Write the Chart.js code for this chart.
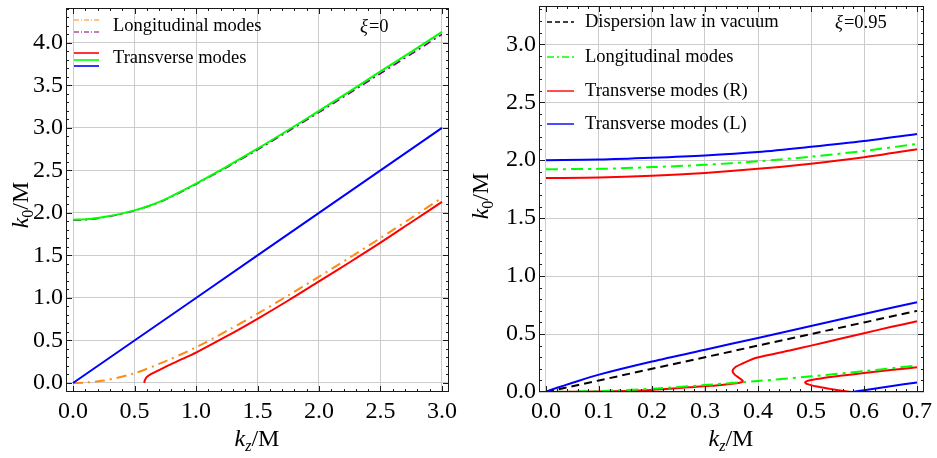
<!DOCTYPE html>
<html>
<head>
<meta charset="utf-8">
<script src="https://cdn.jsdelivr.net/npm/chart.js@4.4.1/dist/chart.umd.min.js"></script>
<style>
  body { margin: 0; background: #fff; }
  #wrap { position: relative; width: 937px; height: 458px; font-family: 'Liberation Serif', 'DejaVu Serif', serif; color: #000; }
  canvas { position: absolute; top: 0; }
  .xt { position: absolute; width: 200px; text-align: center; font-size: 24px; line-height: 24px; white-space: nowrap; }
  .yt { position: absolute; width: 120px; text-align: center; font-size: 24px; line-height: 24px; white-space: nowrap; transform: rotate(-90deg); }
  sub { font-size: 16px; vertical-align: -5px; line-height: 0; }
</style>
</head>
<body>
<div id="wrap">
  <canvas id="left" width="468" height="458" style="left:0"></canvas>
  <canvas id="right" width="469" height="458" style="left:468px"></canvas>
  <div class="xt" style="left:157px;top:426px"><i>k</i><sub><i>z</i></sub>/M</div>
  <div class="xt" style="left:631px;top:426px"><i>k</i><sub><i>z</i></sub>/M</div>
  <div class="yt" style="left:-40px;top:193px"><i>k</i><sub>0</sub>/M</div>
  <div class="yt" style="left:420px;top:184px"><i>k</i><sub>0</sub>/M</div>
</div>
<script>
// ---- left panel (xi = 0) ----
const leftXTicks = [0, 0.5, 1, 1.5, 2, 2.5, 3];
const leftYTicks = [0, 0.5, 1, 1.5, 2, 2.5, 3, 3.5, 4];

const kzL = [0, 0.125, 0.25, 0.375, 0.5, 0.625, 0.75, 0.875, 1, 1.25, 1.5, 1.75, 2, 2.25, 2.5, 2.75, 3];
const transUpperL = [1.92, 1.928, 1.952, 1.986, 2.03, 2.088, 2.16, 2.25, 2.345, 2.545, 2.755, 2.975, 3.2, 3.43, 3.665, 3.895, 4.13];
const longUpperL = [1.915, 1.923, 1.948, 1.982, 2.026, 2.084, 2.155, 2.244, 2.338, 2.535, 2.743, 2.96, 3.183, 3.41, 3.64, 3.868, 4.1];

const kzBlueL = [0, 0.5, 1, 1.5, 2, 2.5, 3];
const lightL = [0, 0.5, 1, 1.5, 2, 2.5, 3];

const kzOrangeL = [0, 0.1, 0.25, 0.5, 0.75, 1, 1.25, 1.5, 1.75, 2, 2.25, 2.5, 2.75, 3];
const longLowerL = [0, 0.005, 0.028, 0.115, 0.255, 0.42, 0.612, 0.815, 1.03, 1.25, 1.475, 1.705, 1.94, 2.18];

const kzRedL = [0.58, 0.582, 0.59, 0.605, 0.63, 0.67, 0.72, 0.78, 0.89, 1, 1.25, 1.5, 1.75, 2, 2.25, 2.5, 2.75, 3];
const transLowerL = [0, 0.025, 0.05, 0.075, 0.1, 0.13, 0.167, 0.21, 0.283, 0.358, 0.55, 0.755, 0.97, 1.195, 1.42, 1.65, 1.89, 2.13];

// ---- right panel (xi = 0.95) ----
const rightXTicks = [0, 0.1, 0.2, 0.3, 0.4, 0.5, 0.6, 0.7];
const rightYTicks = [0, 0.5, 1, 1.5, 2, 2.5, 3];

const kzR = [0, 0.1, 0.2, 0.3, 0.4, 0.5, 0.6, 0.7];
const vacuumR = [0, 0.1, 0.2, 0.3, 0.4, 0.5, 0.6, 0.7];
const transLUpperR = [2.0, 2.005, 2.02, 2.04, 2.07, 2.115, 2.165, 2.225];
const longUpperR = [1.922, 1.925, 1.94, 1.96, 1.99, 2.03, 2.08, 2.14];
const transRUpperR = [1.846, 1.85, 1.865, 1.89, 1.925, 1.97, 2.025, 2.095];

const kzBlueR = [0, 0.01, 0.03, 0.05, 0.1, 0.2, 0.3, 0.4, 0.5, 0.6, 0.7];
const transLLowerR = [0, 0.02, 0.05, 0.08, 0.15, 0.263, 0.365, 0.466, 0.57, 0.673, 0.775];

const kzBlue2R = [0.578, 0.6, 0.65, 0.7];
const transLBranch2R = [0, 0.016, 0.05, 0.082];

const kzGreenR = [0.01, 0.1, 0.2, 0.3, 0.4, 0.5, 0.6, 0.7];
const longLowerR = [0, 0.008, 0.028, 0.06, 0.095, 0.135, 0.18, 0.228];

const kzRedR = [0, 0.1, 0.2, 0.27, 0.31, 0.347, 0.365, 0.372, 0.366, 0.356, 0.352, 0.357, 0.372, 0.397, 0.46, 0.5, 0.555, 0.6, 0.65, 0.7];
const transRLowerR = [0, 0.004, 0.018, 0.04, 0.053, 0.07, 0.08, 0.092, 0.116, 0.15, 0.18, 0.214, 0.248, 0.295, 0.358, 0.4, 0.459, 0.507, 0.56, 0.61];

const kzRed2R = [0.575, 0.555, 0.536, 0.511, 0.492, 0.489, 0.498, 0.523, 0.555, 0.6, 0.65, 0.7];
const transRBranch2R = [0, 0.013, 0.027, 0.047, 0.07, 0.085, 0.102, 0.12, 0.14, 0.163, 0.189, 0.214];

const FONT = "'Liberation Serif', 'DejaVu Serif', serif";
const ORANGE = '#ff8a14', PURPLE = '#800080', GREEN = '#00ff00', RED = '#ff0000', BLUE = '#0000ff';

function pts(xs, ys) {
  return xs.map((x, i) => ({ x: x, y: ys[i] }));
}

function line(label, xs, ys, color, dash, width, tension) {
  return {
    label: label,
    data: pts(xs, ys),
    showLine: true,
    borderColor: color,
    borderWidth: width || 2,
    borderDash: dash || [],
    pointRadius: 0,
    tension: tension === undefined ? 0.3 : tension,
    fill: false
  };
}

// frame with inward ticks, legend and xi label, Mathematica style
const framePlugin = {
  id: 'frame',
  afterDraw(chart, args, o) {
    const ctx = chart.ctx, a = chart.chartArea, sx = chart.scales.x, sy = chart.scales.y;
    ctx.save();
    ctx.strokeStyle = '#1a1a1a';
    ctx.lineWidth = 1;
    ctx.strokeRect(a.left + 0.5, a.top + 0.5, a.right - a.left - 1, a.bottom - a.top - 1);

    const seg = (x1, y1, x2, y2) => { ctx.beginPath(); ctx.moveTo(x1, y1); ctx.lineTo(x2, y2); ctx.stroke(); };
    const xTick = (v, len) => {
      const p = Math.round(sx.getPixelForValue(v)) + 0.5;
      if (p < a.left || p > a.right) return;
      seg(p, a.bottom, p, a.bottom - len);
      seg(p, a.top, p, a.top + len);
    };
    const yTick = (v, len) => {
      const p = Math.round(sy.getPixelForValue(v)) + 0.5;
      if (p < a.top || p > a.bottom) return;
      seg(a.left, p, a.left + len, p);
      seg(a.right, p, a.right - len, p);
    };
    for (let v = o.xMinor[0]; v <= o.xMinor[1] + 1e-9; v += o.xMinor[2]) xTick(v, 3);
    for (let v = o.yMinor[0]; v <= o.yMinor[1] + 1e-9; v += o.yMinor[2]) yTick(v, 3);
    o.xMajor.forEach(v => xTick(v, 6));
    o.yMajor.forEach(v => yTick(v, 6));

    // legend
    ctx.font = '18.5px ' + FONT;
    ctx.fillStyle = '#000';
    ctx.textBaseline = 'middle';
    o.legend.forEach(item => {
      ctx.fillText(item.text, o.legendTextX, item.y);
      item.lines.forEach(l => {
        ctx.strokeStyle = l.color;
        ctx.lineWidth = l.width;
        ctx.setLineDash(l.dash);
        seg(o.legendLineX[0], l.y, o.legendLineX[1], l.y);
      });
    });
    ctx.setLineDash([]);

    // xi label
    ctx.font = 'italic 18.5px ' + FONT;
    ctx.fillText('\u03be', o.xi.x, o.xi.y);
    const w = ctx.measureText('\u03be').width;
    ctx.font = '18.5px ' + FONT;
    ctx.fillText(o.xi.text, o.xi.x + w + 1, o.xi.y);
    ctx.restore();
  }
};

function axes(xMin, xMax, yMin, yMax, xTicks, yTicks, yWidth) {
  const tickFont = { family: FONT, size: 24 };
  return {
    x: {
      type: 'linear', min: xMin, max: xMax,
      afterBuildTicks: s => { s.ticks = xTicks.map(v => ({ value: v })); },
      afterFit: s => { s.height = 66; s.paddingLeft = 0; s.paddingRight = 0; },
      ticks: { font: tickFont, color: '#000', padding: 5, maxRotation: 0, autoSkip: false, callback: v => v.toFixed(1) },
      grid: { color: '#cccccc', drawTicks: false },
      border: { display: false }
    },
    y: {
      type: 'linear', min: yMin, max: yMax,
      afterBuildTicks: s => { s.ticks = yTicks.map(v => ({ value: v })); },
      afterFit: s => { s.width = yWidth; s.paddingTop = 0; s.paddingBottom = 0; },
      ticks: { font: tickFont, color: '#000', padding: 3, autoSkip: false, callback: v => v.toFixed(1) },
      grid: { color: '#cccccc', drawTicks: false },
      border: { display: false }
    }
  };
}

new Chart(document.getElementById('left'), {
  type: 'scatter',
  data: {
    datasets: [
      line('Transverse modes', kzL, transUpperL, GREEN),
      line('Longitudinal modes', kzL, longUpperL, PURPLE, [8, 4, 2, 4], 1.6),
      line('Transverse modes', kzBlueL, lightL, BLUE, [], 2, 0),
      line('Transverse modes', kzRedL, transLowerL, RED),
      line('Longitudinal modes', kzOrangeL, longLowerL, ORANGE, [10, 5, 2, 5])
    ]
  },
  options: {
    responsive: false,
    animation: false,
    layout: { padding: { top: 8, right: 19, left: 0, bottom: 0 } },
    scales: axes(-0.057, 3.057, -0.106, 4.41, leftXTicks, leftYTicks, 66),
    plugins: {
      legend: { display: false },
      tooltip: { enabled: false },
      frame: {
        xMajor: leftXTicks, yMajor: leftYTicks,
        xMinor: [0, 3, 0.1], yMinor: [0, 4.4, 0.1],
        legendLineX: [74, 99], legendTextX: 113,
        legend: [
          { text: 'Longitudinal modes', y: 26, lines: [
            { color: ORANGE, dash: [5, 2, 1, 2], width: 1.2, y: 20 },
            { color: PURPLE, dash: [5, 2, 1, 2], width: 1.2, y: 32 } ] },
          { text: 'Transverse modes', y: 58, lines: [
            { color: RED, dash: [], width: 1.6, y: 53 },
            { color: GREEN, dash: [], width: 1.6, y: 60 },
            { color: BLUE, dash: [], width: 1.6, y: 66 } ] }
        ],
        xi: { x: 360, y: 27, text: '=0' }
      }
    }
  },
  plugins: [framePlugin]
});

new Chart(document.getElementById('right'), {
  type: 'scatter',
  data: {
    datasets: [
      line('Transverse modes (L)', kzR, transLUpperR, BLUE),
      line('Longitudinal modes', kzR, longUpperR, GREEN, [12, 5, 3, 5]),
      line('Transverse modes (R)', kzR, transRUpperR, RED),
      line('Transverse modes (L)', kzBlueR, transLLowerR, BLUE),
      line('Transverse modes (L)', kzBlue2R, transLBranch2R, BLUE),
      line('Dispersion law in vacuum', kzR, vacuumR, '#000', [8, 5], 2, 0),
      line('Longitudinal modes', kzGreenR, longLowerR, GREEN, [12, 5, 3, 5]),
      line('Transverse modes (R)', kzRedR, transRLowerR, RED, [], 2, 0.25),
      line('Transverse modes (R)', kzRed2R, transRBranch2R, RED, [], 2, 0.25)
    ]
  },
  options: {
    responsive: false,
    animation: false,
    layout: { padding: { top: 6, right: 13, left: 0, bottom: 0 } },
    scales: axes(-0.0132, 0.7132, 0, 3.33, rightXTicks, rightYTicks, 71),
    plugins: {
      legend: { display: false },
      tooltip: { enabled: false },
      frame: {
        xMajor: rightXTicks, yMajor: rightYTicks,
        xMinor: [0, 0.7, 0.02], yMinor: [0, 3.3, 0.1],
        legendLineX: [79, 106], legendTextX: 117,
        legend: [
          { text: 'Dispersion law in vacuum', y: 22, lines: [{ color: '#000', dash: [5, 3], width: 1.4, y: 22 }] },
          { text: 'Longitudinal modes', y: 57, lines: [{ color: GREEN, dash: [7, 3, 2, 3], width: 1.4, y: 57 }] },
          { text: 'Transverse modes (R)', y: 91, lines: [{ color: RED, dash: [], width: 1.4, y: 91 }] },
          { text: 'Transverse modes (L)', y: 124, lines: [{ color: BLUE, dash: [], width: 1.4, y: 124 }] }
        ],
        xi: { x: 367, y: 23, text: '=0.95' }
      }
    }
  },
  plugins: [framePlugin]
});
</script>
</body>
</html>
